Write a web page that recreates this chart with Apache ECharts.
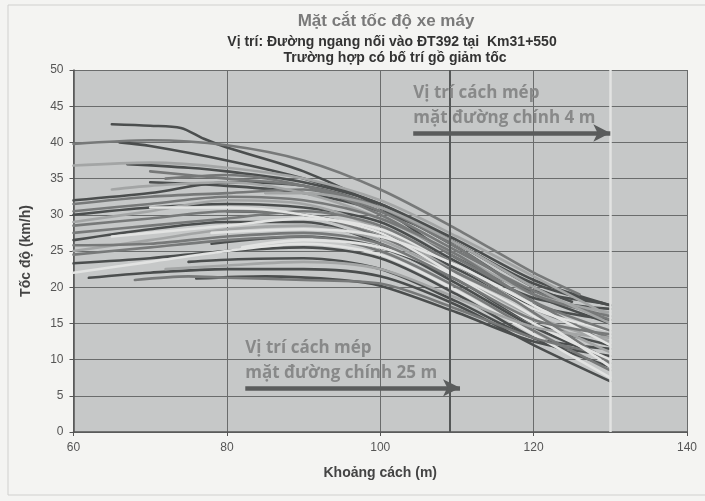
<!DOCTYPE html>
<html><head><meta charset="utf-8">
<script src="https://cdn.jsdelivr.net/npm/echarts@6/dist/echarts.min.js"></script>
<style>html,body{margin:0;padding:0;background:#f4f4f2;}#c{width:705px;height:501px;}</style>
</head><body><div id="c"></div>
<script>
// ---- data (speed profiles, [distance m, speed km/h]) ----
const line01 = [[65,42.5],[70,42.3],[74,42],[77,40.5],[80,39.3],[90,36],[100,31],[110,24],[120,19.5],[129,17.8]];
const line02 = [[60,39.8],[70,40.3],[80,39.6],[90,37.5],[100,33.5],[110,28],[120,22],[126,19]];
const line03 = [[66,40],[70,39.5],[80,37.5],[90,35],[100,31.5],[110,26.5],[120,21],[130,17.5]];
const line04 = [[60,36.8],[70,37.2],[80,36.5],[90,35],[100,32],[110,27],[120,21.5],[130,16]];
const line05 = [[60,32],[70,33],[80,34.5],[90,34],[100,31],[110,25.5],[120,19],[130,15]];
const line06 = [[60,31.5],[70,32.5],[80,33],[90,33.5],[100,30],[110,24],[120,18],[130,12]];
const line07 = [[60,30],[70,31],[80,31.5],[90,31],[100,29],[110,23.5],[120,18.5],[130,17]];
const line08 = [[60,29],[70,30.5],[80,32],[90,31.5],[100,28],[110,22],[120,16],[130,11]];
const line09 = [[60,28.5],[70,29.5],[80,30.5],[90,30],[100,27],[110,22],[120,17],[130,13]];
const line10 = [[60,26.5],[70,28],[80,29],[90,29],[100,26],[110,20.5],[120,14.5],[130,10]];
const line11 = [[60,25],[70,26.5],[80,28],[90,28.5],[100,26.5],[110,21.5],[120,16],[130,12.5]];
const line12 = [[60,24.5],[70,25.5],[80,26.5],[90,27],[100,25],[110,20],[120,14],[130,8.5]];
const line13 = [[60,23.3],[70,24],[80,25],[90,25.5],[100,24],[110,19],[120,13],[130,9]];
const line14 = [[60,22],[70,23.5],[80,25],[90,26],[100,24.5],[110,19.5],[120,13.5],[130,7.5]];
const line15 = [[62,21.3],[70,22],[80,22.5],[90,22.5],[100,21.5],[110,17.5],[120,12],[130,7]];
const line16 = [[68,21],[75,21.5],[80,21.3],[90,21],[100,20.5],[110,17],[120,13],[128,11]];
const line17 = [[76,21.2],[85,21.5],[95,21],[100,20.2],[110,16.5],[120,12.5],[130,10.5]];
const line18 = [[65,27],[70,27.5],[80,28.5],[90,29.5],[100,28],[110,23],[120,17],[130,14]];
const line19 = [[72,35],[80,35.5],[90,34],[100,30.5],[110,25],[120,19.5],[130,15.5]];
const line20 = [[70,34.5],[80,34],[90,33],[100,30.5],[110,26],[120,20],[125,18]];
const line21 = [[65,33.5],[70,34],[80,34.5],[90,33],[100,29.5],[110,24.5],[120,19],[130,16.5]];
const line22 = [[60,27.5],[70,28.5],[80,29.5],[90,30.5],[100,28.5],[110,23],[120,16.5],[130,9.5]];
const line23 = [[70,31],[80,31],[90,30],[100,27.5],[110,21.5],[120,15],[130,10]];
const line24 = [[75,23.5],[80,23.8],[90,24],[100,22.5],[110,18],[120,13],[130,11.5]];
const line25 = [[72,22.5],[80,23],[90,23.5],[100,22.5],[110,18.5],[120,14.5],[130,13]];
const line26 = [[60,30.5],[70,31.5],[80,32.5],[90,32],[100,29.5],[110,24.5],[120,18],[130,14]];
const line27 = [[78,27.5],[90,28],[100,27],[110,23],[120,17.5],[130,12]];
const line28 = [[78,26],[90,27],[100,25.5],[110,21],[120,15],[130,12]];
const line29 = [[82,25.5],[90,26.5],[100,25.5],[110,21.5],[120,16],[130,9]];
const line30 = [[60,25.8],[70,26],[80,27],[90,27.5],[100,26],[110,21],[120,15.5],[130,13.5]];
const line31 = [[67,37],[75,36.5],[80,36],[90,34.5],[100,31.5],[110,26],[120,20.5],[130,17.5]];
const line32 = [[70,36],[80,35],[90,34],[100,31],[110,25.5],[120,19],[130,16]];
const line33 = [[85,33],[90,33],[100,31],[110,26],[120,20],[130,15]];
const line34 = [[80,30.5],[90,30],[100,27.5],[110,22.5],[120,17.5],[130,15.5]];

const allLines = [line01,line02,line03,line04,line05,line06,line07,line08,line09,line10,
  line11,line12,line13,line14,line15,line16,line17,line18,line19,line20,
  line21,line22,line23,line24,line25,line26,line27,line28,line29,line30,
  line31,line32,line33,line34];
// shade index per line: 0 dark, 1 mid, 2 light, 3 whitish
const lineShade = [0,1,0,2,0,1,0,2,1,0, 2,1,0,3,0,1,0,3,1,0, 2,1,3,0,2,1,3,0,3,1, 0,1,2,0];

const verticalMarks = [109, 130];
const arrow4m = {label:['Vị trí cách mép','mặt đường chính 4 m'], from:[104.3,41.3], to:[130,41.3], textY:[46.8,43.4]};
const arrow25m = {label:['Vị trí cách mép','mặt đường chính 25 m'], from:[82.4,6.1], to:[110.4,6.1], textY:[11.6,8.1]};
const xTicks = [60,80,100,120,140];
const yTicks = [0,5,10,15,20,25,30,35,40,45,50];

const shades = ['#4b4e4e','#777979','#a3a5a5','#e2e3e2'];

const chart = echarts.init(document.getElementById('c'));
const series = allLines.map((d,i)=>({
  type:'line', data:d, showSymbol:false, smooth:0.3, silent:true,
  lineStyle:{width:2.6, color:shades[lineShade[i]], cap:'round'}, z: 3 + (lineShade[i]===0?0:1)
}));
function annot(a){
  return {
    type:'line', data:[], silent:true,
    markLine:{silent:true, symbol:['none','arrow'], symbolSize:[13,17],
      lineStyle:{color:'#5a5c5c', width:4.5, type:'solid'}, label:{show:false},
      data:[[{coord:a.from},{coord:a.to}]]},
    markPoint:{silent:true, symbol:'rect', symbolSize:0,
      data:a.label.map((t,k)=>({coord:[a.from[0],a.textY[k]], value:t,
        label:{show:true, position:'right', distance:0, formatter:t, color:'#888989',
          fontFamily:'Open Sans', fontWeight:'bold', fontSize:17}}))}
  };
}
series.push({
  type:'line', data:[], silent:true,
  markLine:{silent:true, symbol:'none', label:{show:false},
    data:[{xAxis:verticalMarks[0], lineStyle:{color:'#555858', width:2, type:'solid'}},
          {xAxis:verticalMarks[1], lineStyle:{color:'#e2e3e2', width:2.5, type:'solid'}}]},
  z:2
});
series.push(annot(arrow4m));
series.push(annot(arrow25m));

chart.setOption({
  animation:false,
  backgroundColor:'#f4f4f2',
  title:[
    {text:'Mặt cắt tốc độ xe máy', left:381, top:8, textAlign:'center',
     textStyle:{fontFamily:'Liberation Sans', fontSize:17, fontWeight:'bold', color:'#7a7a7a'}},
    {text:'Vị trí: Đường ngang nối vào ĐT392 tại  Km31+550', left:387, top:30, textAlign:'center',
     textStyle:{fontFamily:'Liberation Sans', fontSize:14, fontWeight:'bold', color:'#333'}},
    {text:'Trường hợp có bố trí gồ giảm tốc', left:390, top:46, textAlign:'center',
     textStyle:{fontFamily:'Liberation Sans', fontSize:14, fontWeight:'bold', color:'#333'}}
  ],
  graphic:[{type:'rect', shape:{x:8,y:5,width:700,height:490}, style:{fill:'none', stroke:'#d0d0ce', lineWidth:1}, z:-1}],
  grid:{left:73.5, right:18, top:70, bottom:69, show:true, backgroundColor:'#c6c8c8', borderWidth:0},
  xAxis:{type:'value', min:xTicks[0], max:xTicks[xTicks.length-1], interval:20,
    name:'Khoảng cách (m)', nameLocation:'middle', nameGap:34,
    nameTextStyle:{fontFamily:'Liberation Sans', fontSize:14, fontWeight:'bold', color:'#444'},
    axisLine:{lineStyle:{color:'#555', width:1.5}}, axisTick:{show:true, length:4, lineStyle:{color:'#555'}},
    axisLabel:{fontFamily:'Liberation Sans', fontSize:12, color:'#555', margin:10},
    splitLine:{show:true, lineStyle:{color:'#6a6c6c', width:1}}},
  yAxis:{type:'value', min:yTicks[0], max:yTicks[yTicks.length-1], interval:5,
    name:'Tốc độ (km/h)', nameLocation:'middle', nameGap:40, nameRotate:90,
    nameTextStyle:{fontFamily:'Liberation Sans', fontSize:14, fontWeight:'bold', color:'#444'},
    axisLine:{show:true, lineStyle:{color:'#555', width:1.5}}, axisTick:{show:true, length:4, lineStyle:{color:'#555'}},
    axisLabel:{fontFamily:'Liberation Sans', fontSize:12, color:'#555', margin:10},
    splitLine:{show:true, lineStyle:{color:'#6a6c6c', width:1}}},
  series:series
});
</script></body></html>
